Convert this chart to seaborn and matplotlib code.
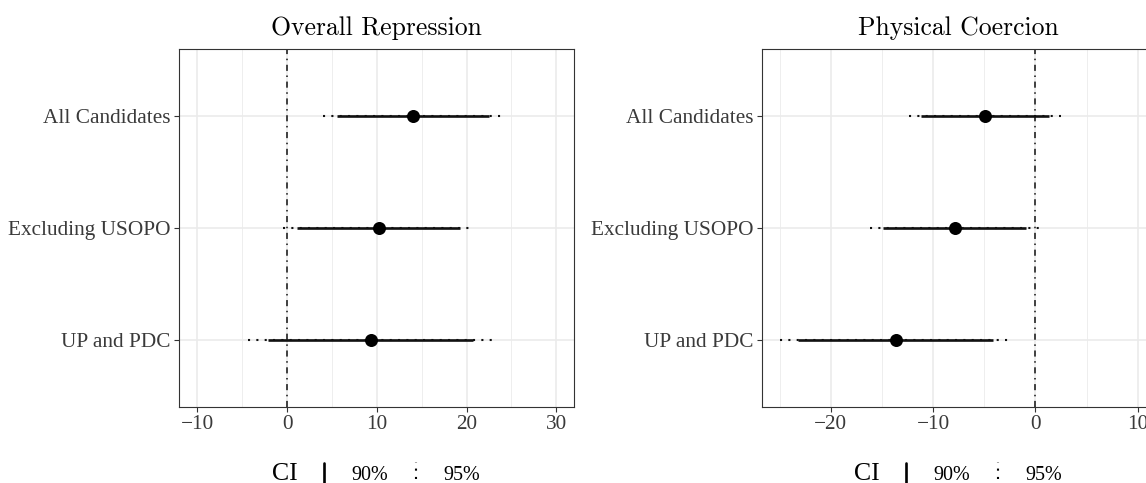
import numpy as np
import pandas as pd
import matplotlib
matplotlib.use("Agg")
import matplotlib.pyplot as plt
from matplotlib.lines import Line2D
from matplotlib.ticker import MultipleLocator
import seaborn as sns

# ---- data ----
categories = ["All Candidates", "Excluding USOPO", "UP and PDC"]

panel_titles = ["Overall Repression", "Physical Coercion"]

# Overall Repression
rep_est = [14.0, 10.2, 9.3]
rep_lo90 = [5.6, 1.1, -2.1]
rep_hi90 = [22.5, 19.3, 20.7]
rep_lo95 = [4.0, -0.4, -4.3]
rep_hi95 = [24.0, 20.4, 22.8]

# Physical Coercion
phy_est = [-4.9, -7.9, -13.6]
phy_lo90 = [-11.2, -14.9, -23.2]
phy_hi90 = [1.3, -0.9, -4.1]
phy_lo95 = [-12.4, -16.2, -25.0]
phy_hi95 = [2.5, 0.4, -2.6]

x_limits = [(-12, 32), (-26.75, 11.75)]
x_major = [10, 10]

sns.set_theme(style="white")
plt.rcParams["font.family"] = ["Liberation Serif", "DejaVu Serif"]

W, H = 1146, 483
fig = plt.figure(figsize=(W / 100, H / 100), dpi=100)

ax_pos = [
    [179.3 / W, (H - 406.7) / H, 395 / W, 357.4 / H],
    [761.7 / W, (H - 406.7) / H, 394 / W, 357.4 / H],
]

panels = [
    (rep_est, rep_lo90, rep_hi90, rep_lo95, rep_hi95),
    (phy_est, phy_lo90, phy_hi90, phy_lo95, phy_hi95),
]

grid_col = "#EBEBEB"
frame_col = "#333333"
tick_col = "#3A3A3A"
dot_style = (0, (1, 3))

for i, (est, lo90, hi90, lo95, hi95) in enumerate(panels):
    ax = fig.add_axes(ax_pos[i])
    n = len(categories)
    ypos = np.arange(n)[::-1]
    df = pd.DataFrame({
        "cat": categories, "y": ypos, "est": est,
        "lo90": lo90, "hi90": hi90, "lo95": lo95, "hi95": hi95,
    })

    ax.set_xlim(*x_limits[i])
    ax.set_ylim(-0.6, n - 0.4)
    ax.xaxis.set_major_locator(MultipleLocator(x_major[i]))
    ax.xaxis.set_minor_locator(MultipleLocator(x_major[i] / 2))
    ax.set_yticks(ypos)
    ax.set_yticklabels(categories)

    ax.grid(which="major", axis="both", color=grid_col, lw=1.2, zorder=0)
    ax.grid(which="minor", axis="x", color=grid_col, lw=0.6, zorder=0)
    ax.set_axisbelow(True)

    ax.axvline(0, color="#111111", lw=1.1, linestyle=(0, (4, 3, 1, 3)), zorder=2)

    ax.hlines(df["y"], df["lo95"], df["hi95"], color="#111111", lw=1.5,
              linestyles=[dot_style], zorder=3)
    ax.hlines(df["y"], df["lo90"], df["hi90"], color="#111111", lw=1.9, zorder=4)

    sns.scatterplot(data=df, x="est", y="y", ax=ax, color="black", s=88,
                    edgecolor="black", linewidth=0, zorder=5, legend=False)

    ax.set_xlabel("")
    ax.set_ylabel("")
    ax.set_title(panel_titles[i], family="cmr10", fontsize=18.5, pad=10, color="black")

    for sp in ax.spines.values():
        sp.set_visible(True)
        sp.set_color(frame_col)
        sp.set_linewidth(0.8)

    ax.tick_params(axis="both", which="major", length=3.5, width=0.8, color=frame_col,
                   labelsize=15.3, labelcolor=tick_col, pad=2.5,
                   bottom=True, left=True)
    ax.tick_params(axis="both", which="minor", length=0)

    # legend beneath the panel
    cx = (ax_pos[i][0] + ax_pos[i][2] / 2) * W
    base = (H - 479.5) / H
    fig.text((cx - 105) / W, base, "CI", fontsize=18.5, va="baseline", ha="left", color="black")
    fig.text((cx - 25) / W, base, "90%", fontsize=14.5, va="baseline", ha="left", color="black")
    fig.text((cx + 66.5) / W, base, "95%", fontsize=14.5, va="baseline", ha="left", color="black")
    fig.add_artist(Line2D([(cx - 52.5) / W] * 2, [(H - 484) / H, (H - 463) / H],
                          color="black", lw=1.9, transform=fig.transFigure))
    fig.add_artist(Line2D([(cx + 39.5) / W] * 2, [(H - 478.5) / H, (H - 462) / H],
                          color="black", lw=1.5, linestyle=dot_style,
                          transform=fig.transFigure))

fig.savefig("out.png", dpi=100)
